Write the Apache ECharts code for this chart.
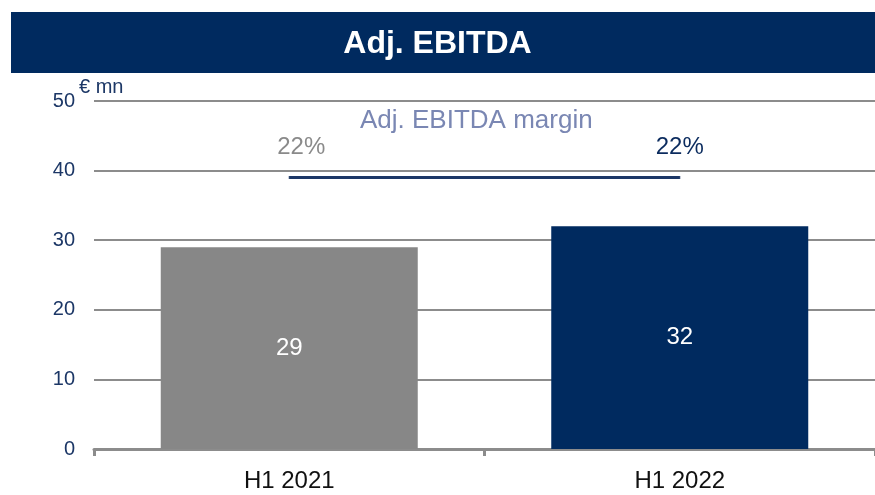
<!DOCTYPE html>
<html>
<head>
<meta charset="utf-8">
<script src="https://cdn.jsdelivr.net/npm/echarts@6/dist/echarts.min.js"></script>
<style>
  html, body { margin: 0; padding: 0; background: #fff; }
  #chart { width: 875px; height: 495px; }
</style>
</head>
<body>
<div id="chart"></div>
<script>
// data
var categories = ["H1 2021", "H1 2022"];
var ebitda = [29, 32];            // € mn
var margin = [22, 22];            // %
var yTicks = [0, 10, 20, 30, 40, 50];

var barColors = ["#878787", "#002a5f"];
var marginColors = ["#8a8a8a", "#0b2b5e"];
var marginLabelShift = [12, 0];

var myChart = echarts.init(document.getElementById("chart"));

var option = {
  animation: false,
  textStyle: { fontFamily: "Liberation Sans, Arial, sans-serif" },
  graphic: [
    {
      type: "rect",
      left: 11,
      top: 12,
      shape: { width: 870, height: 61 },
      style: { fill: "#002a5f" },
      z: 0
    },
    {
      type: "text",
      left: "center",
      top: 28,
      style: {
        text: "Adj. EBITDA",
        fill: "#ffffff",
        font: "bold 32px Liberation Sans, Arial, sans-serif"
      }
    },
    {
      type: "text",
      left: 79,
      top: 77,
      style: {
        text: "€ mn",
        fill: "#1c3766",
        font: "20px Liberation Sans, Arial, sans-serif"
      }
    },
    {
      type: "text",
      left: 360,
      top: 108,
      style: {
        text: "Adj. EBITDA margin",
        fill: "#7a87b3",
        font: "26px Liberation Sans, Arial, sans-serif"
      }
    }
  ],
  grid: {
    left: 94,
    right: -3,
    top: 101,
    bottom: 46
  },
  xAxis: {
    type: "category",
    data: categories,
    axisLine: { lineStyle: { color: "#8c8c8c", width: 3 } },
    axisTick: { show: true, length: 7, lineStyle: { color: "#8c8c8c", width: 3 } },
    axisLabel: {
      color: "#111111",
      fontSize: 24,
      margin: 20
    }
  },
  yAxis: [
    {
      type: "value",
      min: 0,
      max: 50,
      interval: 10,
      axisLine: { show: false },
      axisTick: { show: false },
      axisLabel: {
        color: "#1c3766",
        fontSize: 20,
        margin: 19,
        formatter: function (v) {
          return yTicks.indexOf(v) >= 0 ? String(v) : "";
        }
      },
      splitLine: { lineStyle: { color: "#8c8c8c", width: 2 } }
    },
    {
      // hidden scale used to place the margin line
      type: "value",
      min: 0,
      max: 28.2,
      show: false,
      splitLine: { show: false }
    }
  ],
  series: [
    {
      name: "Adj. EBITDA",
      type: "bar",
      barWidth: 257,
      data: ebitda.map(function (v, i) {
        return { value: v, itemStyle: { color: barColors[i] } };
      }),
      label: {
        show: true,
        position: "inside",
        color: "#ffffff",
        fontSize: 24
      },
      z: 2
    },
    {
      name: "Adj. EBITDA margin",
      type: "line",
      yAxisIndex: 1,
      symbol: "rect",
      symbolSize: [1, 3],
      showSymbol: true,
      itemStyle: { color: "#1c3766" },
      lineStyle: { color: "#1c3766", width: 3 },
      label: {
        show: true,
        position: "top",
        distance: 17,
        fontSize: 24,
        formatter: function (p) { return p.value + "%"; }
      },
      data: margin.map(function (v, i) {
        return {
          value: v,
          label: { color: marginColors[i], offset: [marginLabelShift[i], 0] }
        };
      }),
      z: 3
    }
  ]
};

myChart.setOption(option);
</script>
</body>
</html>
